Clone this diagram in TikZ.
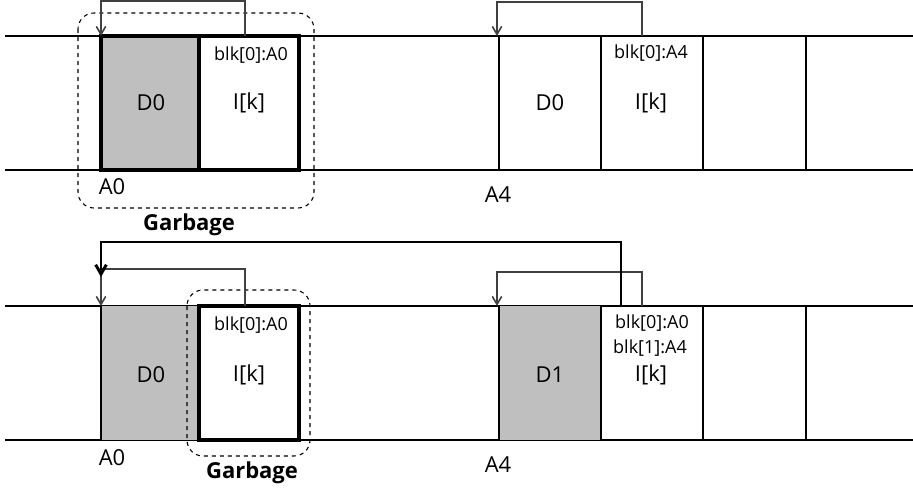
\documentclass[tikz,border=0pt]{standalone}
\usepackage{fontspec}
\setmainfont{Open Sans}
\usetikzlibrary{arrows.meta}
\begin{document}
\begin{tikzpicture}[x=0.75pt,y=-0.75pt,
	rail/.style={line width=1.5pt},
	blkbox/.style={line width=3pt},
	link/.style={draw=black!75,line width=1.2pt,-{Straight Barb[length=6pt,width=7pt]}},
	biglink/.style={line width=2.2pt,-{Straight Barb[length=7pt,width=8pt]}},
	garbage/.style={dashed,line width=0.8pt,rounded corners=12pt},
	lbl/.style={font=\fontsize{16.5}{19}\selectfont},
	small/.style={font=\fontsize{13.5}{16}\selectfont},
	gblbl/.style={font=\fontsize{16.5}{19}\selectfont\bfseries}]
	
	\useasboundingbox (0,0) rectangle (913,493);
	
	% top rows
	\draw[rail] (5,36) -- (913,36);
	\draw[rail] (5,170) -- (913,170);
	% bottom rows
	\draw[rail] (5,306) -- (913,306);
	\draw[rail] (5,440) -- (913,440);
	
	% ---- top left: D0 + I[k] at A0
	\fill[gray!50] (101,36) rectangle (199,170);
	\draw[blkbox] (101,36) rectangle (299,170);
	\draw[blkbox] (199,36) -- (199,170);
	\node[lbl] (d0a) at (151,103) {D0};
	\node[lbl] (ika) at (249,103) {I[k]};
	\node[small] (blka) at (251,55) {blk[0]:A0};
	\node[lbl] (a0a) at (112,187) {A0};
	\draw[garbage] (78,13) rectangle (314,208);
	\node[gblbl] (gba) at (189,225) {Garbage};
	\coordinate (sa) at (245,36);
	\coordinate (ta) at (101,36);
	\draw[link] (sa) -- ++(0,-35) -| (ta);
	
	% ---- top right: D0 + I[k] at A4
	\foreach \x in {499,601,703,806}
		\draw[rail] (\x,36) -- (\x,170);
	\node[lbl] (d0b) at (550,103) {D0};
	\node[lbl] (ikb) at (651,103) {I[k]};
	\node[small] (blkb) at (651,53) {blk[0]:A4};
	\node[lbl] (a4b) at (498,195) {A4};
	\coordinate (sb) at (642,36);
	\coordinate (tb) at (497,36);
	\draw[link] (sb) -- ++(0,-34) -| (tb);
	
	% ---- bottom left: old I[k] becomes garbage
	\fill[gray!50] (101,306) rectangle (199,440);
	\draw[rail] (101,306) -- (101,440);
	\draw[blkbox] (199,306) rectangle (299,440);
	\node[lbl] (d0c) at (151,375) {D0};
	\node[lbl] (ikc) at (249,375) {I[k]};
	\node[small] (blkc) at (251,325) {blk[0]:A0};
	\node[lbl] (a0c) at (112,458) {A0};
	\draw[garbage] (187,290) rectangle (310,456);
	\node[gblbl] (gbc) at (252,473) {Garbage};
	\coordinate (sc) at (245,306);
	\coordinate (tc) at (101,306);
	\draw[link] (sc) -- ++(0,-37) -| (tc);
	
	% ---- bottom right: D1 + new I[k] at A4
	\fill[gray!50] (499,306) rectangle (601,440);
	\foreach \x in {499,601,703,806}
		\draw[rail] (\x,306) -- (\x,440);
	\node[lbl] (d1d) at (550,375) {D1};
	\node[lbl] (ikd) at (651,375) {I[k]};
	\node[small] (blkd0) at (652,323) {blk[0]:A0};
	\node[small] (blkd1) at (650,348) {blk[1]:A4};
	\node[lbl] (a4d) at (498,465) {A4};
	\coordinate (sd) at (642,306);
	\coordinate (td) at (497,306);
	\draw[link] (sd) -- ++(0,-34) -| (td);
	
	% new I[k] points back to A0
	\coordinate (se) at (621,306);
	\coordinate (te) at (101,277);
	\draw[biglink] (se) -- ++(0,-64) -| (te);
	
\end{tikzpicture}
\end{document}
